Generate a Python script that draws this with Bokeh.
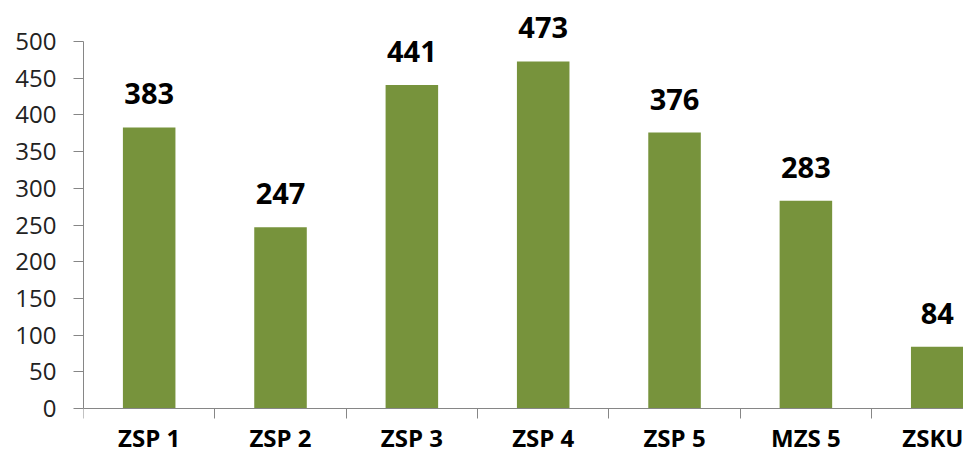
from bokeh.plotting import figure
from bokeh.models import ColumnDataSource, LabelSet, FixedTicker, Range1d
from bokeh.core.properties import value
from bokeh.embed import file_html
from bokeh.resources import INLINE

categories = ["ZSP 1", "ZSP 2", "ZSP 3", "ZSP 4", "ZSP 5", "MZS 5", "ZSKU"]
values = [383, 247, 441, 473, 376, 283, 84]
y_ticks = [0, 50, 100, 150, 200, 250, 300, 350, 400, 450, 500]

xs = list(range(len(categories)))
src = ColumnDataSource(dict(x=xs, top=values, lbl=[str(v) for v in values]))

p = figure(width=963, height=456, output_backend="svg", toolbar_location=None,
           x_range=Range1d(-0.5, 6.2), y_range=Range1d(-65.4, 556),
           min_border_left=83, min_border_right=0, min_border_top=0, min_border_bottom=0)
p.outline_line_color = None
p.xgrid.grid_line_color = None
p.ygrid.grid_line_color = None

p.vbar(x="x", top="top", width=0.40, source=src, fill_color="#77933C", line_color=None)

labels = LabelSet(x="x", y="top", text="lbl", source=src, text_align="center",
                  text_baseline="alphabetic", y_offset=23,
                  text_font=value("Open Sans"), text_font_style="bold", text_font_size="29px",
                  text_color="#000000")
p.add_layout(labels)

axis_col = "#868686"
# y axis
yax = p.yaxis[0]
yax.ticker = FixedTicker(ticks=y_ticks)
yax.bounds = (0, 500)
yax.axis_line_color = axis_col
yax.major_tick_line_color = axis_col
yax.major_tick_out = 10
yax.major_tick_in = 0
yax.minor_tick_line_color = None
yax.major_label_standoff = 17
yax.major_label_text_font = "Open Sans"
yax.major_label_text_font_size = "24px"
yax.major_label_text_color = "#222222"

# x axis sits at y = 0 inside the frame
xax = p.xaxis[0]
xax.fixed_location = 0
xax.ticker = FixedTicker(ticks=xs, minor_ticks=[i - 0.5 for i in range(len(categories) + 1)])
xax.major_label_overrides = {i: c for i, c in enumerate(categories)}
xax.axis_line_color = axis_col
xax.major_tick_line_color = None
xax.major_tick_out = 0
xax.major_tick_in = 0
xax.minor_tick_line_color = axis_col
xax.minor_tick_out = 10
xax.minor_tick_in = 0
xax.major_label_standoff = 2
xax.major_label_text_font = "Open Sans"
xax.major_label_text_font_style = "bold"
xax.major_label_text_font_size = "24px"
xax.major_label_text_color = "#000000"

open("out.html", "w").write(file_html(p, INLINE))
